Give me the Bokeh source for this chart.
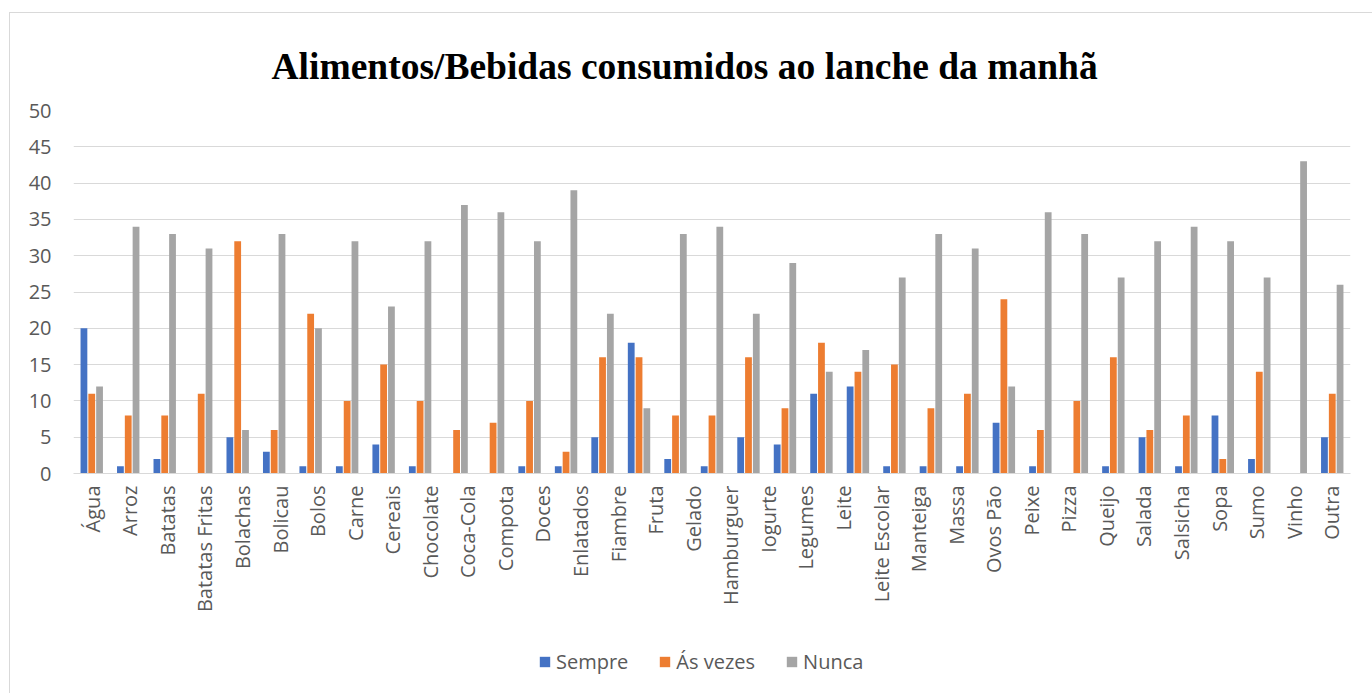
from bokeh.plotting import figure
from bokeh.models import (Range1d, FixedTicker, Legend, LegendItem, ColumnDataSource)
from bokeh.layouts import column
from bokeh.transform import dodge
from bokeh.embed import file_html
from bokeh.resources import INLINE
import math

# ---- data ----
categories = ["Água", "Arroz", "Batatas", "Batatas Fritas", "Bolachas", "Bolicau",
              "Bolos", "Carne", "Cereais", "Chocolate", "Coca-Cola", "Compota",
              "Doces", "Enlatados", "Fiambre", "Fruta", "Gelado", "Hamburguer",
              "Iogurte", "Legumes", "Leite", "Leite Escolar", "Manteiga", "Massa",
              "Ovos Pão", "Peixe", "Pizza", "Queijo", "Salada", "Salsicha", "Sopa",
              "Sumo", "Vinho", "Outra"]
sempre   = [20, 1, 2, 0, 5, 3, 1, 1, 4, 1, 0, 0, 1, 1, 5, 18, 2, 1, 5, 4,
            11, 12, 1, 1, 1, 7, 1, 0, 1, 5, 1, 8, 2, 0, 5]
as_vezes = [11, 8, 8, 11, 32, 6, 22, 10, 15, 10, 6, 7, 10, 3, 16, 16, 8, 8, 16, 9,
            18, 14, 15, 9, 11, 24, 6, 10, 16, 6, 8, 2, 14, 0, 11]
nunca    = [12, 34, 33, 31, 6, 33, 20, 32, 23, 32, 37, 36, 32, 39, 22, 9, 33, 34, 22, 29,
            14, 17, 27, 33, 31, 12, 36, 33, 27, 32, 34, 32, 27, 43, 26]
series_names = ["Sempre", "Ás vezes", "Nunca"]
colors = ["#4472C4", "#ED7D31", "#A5A5A5"]
y_ticks = [0, 5, 10, 15, 20, 25, 30, 35, 40, 45, 50]
title_text = "Alimentos/Bebidas consumidos ao lanche da manhã"

n_groups = len(sempre)
n_labels = len(categories)
source = ColumnDataSource(dict(
    x=[i + 0.5 for i in range(n_groups)],
    s0=sempre, s1=as_vezes, s2=nunca,
))

p = figure(width=1362, height=627,
           x_range=Range1d(0, n_groups), y_range=Range1d(0, max(y_ticks)),
           output_backend="svg", toolbar_location=None,
           min_border_left=63, min_border_right=22, min_border_top=97,
           min_border_bottom=167)
p.outline_line_color = None
p.background_fill_color = "white"
p.border_fill_color = "white"

# category labels spread evenly over the axis width
label_pos = [(j + 0.5) * n_groups / n_labels for j in range(n_labels)]
xaxis = p.xaxis[0]
xaxis.ticker = FixedTicker(ticks=label_pos)
xaxis.major_label_overrides = {pos: name for pos, name in zip(label_pos, categories)}
xaxis.axis_line_color = "#D9D9D9"
xaxis.axis_line_width = 1
xaxis.major_tick_line_color = None
xaxis.minor_tick_line_color = None
xaxis.major_tick_out = 0
xaxis.major_label_orientation = math.pi / 2
xaxis.major_label_standoff = 12
xaxis.major_label_text_font = "Open Sans"
xaxis.major_label_text_font_size = "20px"
xaxis.major_label_text_color = "#595959"

p.yaxis.ticker = FixedTicker(ticks=y_ticks)
p.yaxis.axis_line_color = None
p.yaxis.major_tick_line_color = None
p.yaxis.minor_tick_line_color = None
p.yaxis.major_tick_out = 0
p.yaxis.major_label_standoff = 22
p.yaxis.major_label_text_font = "Open Sans"
p.yaxis.major_label_text_font_size = "20px"
p.yaxis.major_label_text_color = "#595959"

p.xgrid.grid_line_color = None
p.ygrid.grid_line_color = "#D9D9D9"
p.ygrid.grid_line_width = 1

renderers = []
for k, (col, c) in enumerate(zip(["s0", "s1", "s2"], colors)):
    r = p.vbar(x=dodge("x", (k - 1) * 0.214), top=col, width=0.186,
               source=source, fill_color=c, line_color=None)
    renderers.append(r)

p.title.text = title_text
p.title.align = "left"
p.title.offset = 198
p.title.text_font = "Liberation Serif"
p.title.text_font_style = "bold"
p.title.text_font_size = "37.5px"
p.title.text_color = "black"
p.title.standoff = 47

# ---- legend strip below the chart (zero-area proxies share the series colours) ----
lf = figure(width=1362, height=53, x_range=Range1d(0, 1), y_range=Range1d(0, 1),
            output_backend="svg", toolbar_location=None,
            x_axis_location=None, y_axis_location=None,
            min_border_left=0, min_border_right=0, min_border_top=0, min_border_bottom=0)
lf.outline_line_color = None
lf.xgrid.grid_line_color = None
lf.ygrid.grid_line_color = None
proxies = [lf.quad(left="x", right="x", top=col, bottom=col, source=source,
                   fill_color=c, line_color=None)
           for col, c in zip(["s0", "s1", "s2"], colors)]
legend = Legend(items=[LegendItem(label=n, renderers=[r]) for n, r in zip(series_names, proxies)],
                orientation="horizontal", location=(465, 18))
legend.label_text_font = "Open Sans"
legend.label_text_font_size = "20px"
legend.label_text_color = "#595959"
legend.glyph_width = 13
legend.glyph_height = 13
legend.label_standoff = 5
legend.spacing = 30
legend.padding = 0
legend.margin = 0
legend.border_line_color = None
legend.background_fill_alpha = 0
lf.add_layout(legend, "center")

page = column(p, lf, spacing=0,
              styles={"margin-left": "9px", "margin-top": "12px",
                      "border-left": "1px solid #D9D9D9", "border-top": "1px solid #D9D9D9"})

open("out.html", "w").write(file_html(page, INLINE))
